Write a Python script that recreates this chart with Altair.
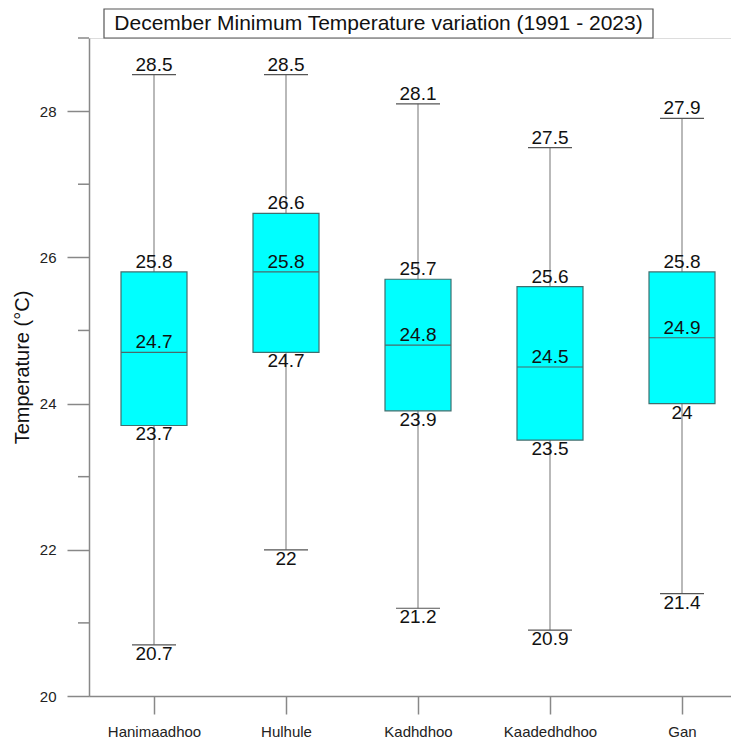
import json
import altair as alt
import pandas as pd

# ---- data ----
title_text = "December Minimum Temperature variation (1991 - 2023)"
stations = ["Hanimaadhoo", "Hulhule", "Kadhdhoo", "Kaadedhdhoo", "Gan"]
mins = [20.7, 22.0, 21.2, 20.9, 21.4]
q1s = [23.7, 24.7, 23.9, 23.5, 24.0]
medians = [24.7, 25.8, 24.8, 24.5, 24.9]
q3s = [25.8, 26.6, 25.7, 25.6, 25.8]
maxs = [28.5, 28.5, 28.1, 27.5, 27.9]
y_major = [20, 22, 24, 26, 28]
y_minor = [21, 23, 25, 27, 29]

FONT = "Liberation Sans"

box_df = pd.DataFrame({
    "station": stations,
    "idx": list(range(len(stations))),
    "min": mins, "q1": q1s, "median": medians, "q3": q3s, "max": maxs,
})

rows = []
for i, s in enumerate(stations):
    for stat, vals, pos in [("max", maxs, "top"), ("q3", q3s, "top"),
                            ("median", medians, "top"), ("q1", q1s, "bottom"),
                            ("min", mins, "bottom")]:
        v = vals[i]
        rows.append({"station": s, "idx": i, "stat": stat, "value": v,
                     "label": f"{v:g}", "pos": pos})
lab_df = pd.DataFrame(rows)

x_scale = alt.Scale(domain=[-65 / 132, 577 / 132], nice=False, zero=False)
y_scale = alt.Scale(domain=[20, 29], nice=False, zero=False)

label_expr = json.dumps(stations) + "[datum.value]"

x_axis = alt.Axis(values=list(range(len(stations))), labelExpr=label_expr,
                  tickSize=18, labelPadding=10, labelFontSize=15,
                  labelFont=FONT, labelColor="#222", domainColor="#888",
                  tickColor="#888", domainWidth=1.5, tickWidth=1.5,
                  grid=False, title=None)
y_axis = alt.Axis(values=y_major, format="d", tickSize=22, labelPadding=11,
                  labelFontSize=15, labelFont=FONT, labelColor="#222",
                  domainColor="#888", tickColor="#888", domainWidth=1.5,
                  tickWidth=1.5, grid=False, title="Temperature (°C)",
                  titleFont=FONT, titleFontSize=20, titleFontWeight="normal",
                  titleColor="#111", titlePadding=7)

base = alt.Chart(box_df)

whisker = base.mark_rule(color="#8a8a8a", strokeWidth=1.2).encode(
    x=alt.X("idx:Q", scale=x_scale, axis=x_axis),
    y=alt.Y("min:Q", scale=y_scale, axis=y_axis),
    y2="max:Q",
)

cap_base = base.transform_calculate(lo="datum.idx - 1/6", hi="datum.idx + 1/6")
cap_max = cap_base.mark_rule(color="#555", strokeWidth=1.2).encode(
    x="lo:Q", x2="hi:Q", y="max:Q")
cap_min = cap_base.mark_rule(color="#555", strokeWidth=1.2).encode(
    x="lo:Q", x2="hi:Q", y="min:Q")

box = base.transform_calculate(lo="datum.idx - 0.25", hi="datum.idx + 0.25").mark_bar(
    color="#00FFFF", stroke="#3f6f6f", strokeWidth=1.2).encode(
    x="lo:Q", x2="hi:Q", y="q1:Q", y2="q3:Q")

median_rule = base.transform_calculate(lo="datum.idx - 0.25", hi="datum.idx + 0.25").mark_rule(
    color="#4a6a6a", strokeWidth=1.2).encode(x="lo:Q", x2="hi:Q", y="median:Q")

minor = alt.Chart(pd.DataFrame({"v": y_minor})).mark_rule(
    color="#888", strokeWidth=1.5).encode(
    y="v:Q", x=alt.value(-11), x2=alt.value(0))

text_top = alt.Chart(lab_df).transform_filter("datum.pos == 'top'").mark_text(
    font=FONT, fontSize=19, color="#111", baseline="alphabetic", dy=-4).encode(
    x="idx:Q", y="value:Q", text="label:N")
text_bot = alt.Chart(lab_df).transform_filter("datum.pos == 'bottom'").mark_text(
    font=FONT, fontSize=19, color="#111", baseline="top", dy=0).encode(
    x="idx:Q", y="value:Q", text="label:N")

tdf = pd.DataFrame({"t": [title_text]})
title_box = alt.Chart(tdf).mark_rect(filled=False, stroke="#555", strokeWidth=1.2).encode(
    x=alt.value(15), x2=alt.value(564), y=alt.value(-29), y2=alt.value(0))
title_mark = alt.Chart(tdf).mark_text(
    font=FONT, fontSize=21, color="#111", baseline="alphabetic", align="center").encode(
    x=alt.value(289.5), y=alt.value(-8), text="t:N")

chart = alt.layer(
    whisker, cap_max, cap_min, box, median_rule, minor, text_top, text_bot,
    title_box, title_mark,
).properties(
    width=642, height=658,
    padding={"left": 4, "top": 0, "right": 0, "bottom": 0},
).configure_view(stroke=None).configure(background="white")

chart.save("out.html", embed_options={"renderer": "svg", "actions": False})
